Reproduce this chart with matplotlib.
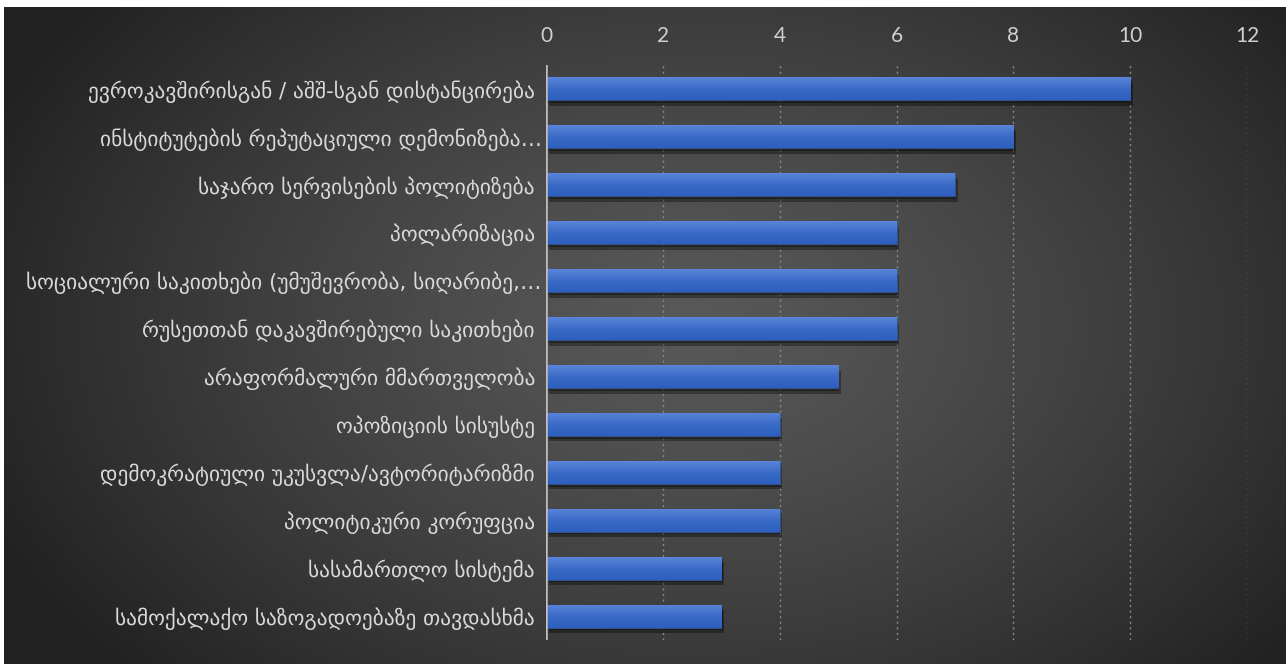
import numpy as np
import matplotlib
matplotlib.use("Agg")
import matplotlib.pyplot as plt
import matplotlib.patheffects as pe
from matplotlib.colors import LinearSegmentedColormap

categories = [
    "ევროკავშირისგან / აშშ-სგან დისტანცირება ",
    "ინსტიტუტების რეპუტაციული დემონიზება…",
    "საჯარო სერვისების პოლიტიზება ",
    "პოლარიზაცია ",
    "სოციალური საკითხები (უმუშევრობა, სიღარიბე,…",
    "რუსეთთან დაკავშირებული საკითხები ",
    "არაფორმალური მმართველობა ",
    "ოპოზიციის სისუსტე ",
    "დემოკრატიული უკუსვლა/ავტორიტარიზმი ",
    "პოლიტიკური კორუფცია ",
    "სასამართლო სისტემა ",
    "სამოქალაქო საზოგადოებაზე თავდასხმა ",
]
values = [10, 8, 7, 6, 6, 6, 5, 4, 4, 4, 3, 3]
xticks = [0, 2, 4, 6, 8, 10, 12]

W, H = 1288, 664
fig = plt.figure(figsize=(W / 100, H / 100), dpi=100)
fig.patch.set_facecolor("white")

# background with radial gradient
bg = fig.add_axes([4 / W, 0, (W - 6) / W, (H - 7) / H])
bg.set_axis_off()
yy, xx = np.mgrid[0:H, 0:W]
d = np.sqrt(((xx - 690) / 760.0) ** 2 + ((yy - 320) / 520.0) ** 2)
d = np.clip(d, 0, 1)
val = 0.345 - (0.345 - 0.135) * d ** 1.3
img = np.dstack([val, val, val])
bg.imshow(img, aspect="auto", extent=[0, 1, 0, 1], origin="upper")
bg.set_xlim(0, 1)
bg.set_ylim(0, 1)

ax = fig.add_axes([546 / W, 1 - 640 / H, (1247 - 546) / W, 575 / H])
ax.patch.set_alpha(0)
y = np.arange(len(categories))
bars = ax.barh(y, values, height=0.48, color="#4472C4", edgecolor="#2f5597",
               linewidth=0.6, zorder=3)
for b in bars:
    b.set_path_effects([pe.SimplePatchShadow(offset=(2, -4), shadow_rgbFace="black", alpha=0.35),
                        pe.SimplePatchShadow(offset=(1, -2), shadow_rgbFace="black", alpha=0.3),
                        pe.Normal()])

cmap = LinearSegmentedColormap.from_list("bar", ["#5a85d8", "#3b6bc8", "#2f5fbd"])
grad = np.linspace(0, 1, 64).reshape(-1, 1)
for b in bars:
    x0, y0 = b.get_x(), b.get_y()
    w, h = b.get_width(), b.get_height()
    im = ax.imshow(grad, cmap=cmap, aspect="auto", extent=[x0, x0 + w, y0 + h, y0],
                   zorder=4, origin="upper")
    im.set_clip_path(b)

ax.set_xlim(0, 12)
ax.set_ylim(len(categories) - 0.5, -0.5)
ax.set_yticks(y)
ax.set_yticklabels(categories, fontsize=15.4, color="#d9d9d9", family=["DejaVu Sans"])
ax.set_xticks(xticks)
ax.set_xticklabels([str(t) for t in xticks], fontsize=15, color="#d0d0d0", family=["Lato", "DejaVu Sans"])
ax.xaxis.tick_top()
ax.tick_params(axis="x", length=0, pad=14)
ax.tick_params(axis="y", length=0, pad=3)
for s in ax.spines.values():
    s.set_visible(False)
for t in xticks[1:]:
    ax.axvline(t, color="#8a8a8a", linestyle=(0, (1.5, 2.5)), linewidth=1.0, zorder=1)
ax.axvline(0, color="#c0c0c0", linewidth=1.8, zorder=5)

fig.savefig("out.png", dpi=100, facecolor=fig.get_facecolor())
